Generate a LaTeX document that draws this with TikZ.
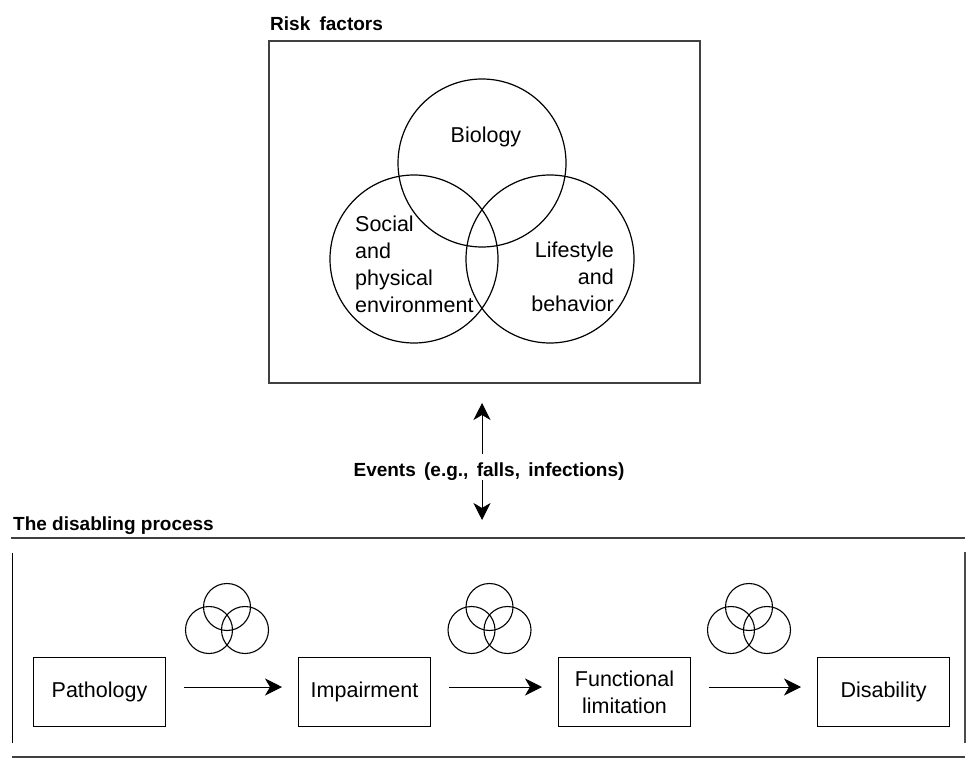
\documentclass[tikz,border=0pt]{standalone}
\usepackage{fontspec}
\setmainfont{Liberation Sans}
\usetikzlibrary{arrows.meta, positioning}

\begin{document}
\begin{tikzpicture}[x=1pt, y=-1pt, font=\fontsize{21.5}{27}\selectfont]
    % Block styles
    \tikzstyle{stage} = [rectangle, draw, line width=1pt, align=center, minimum width=132pt, minimum height=69pt, inner sep=0pt]
    \tikzstyle{factor} = [circle, draw, line width=1.2pt, minimum size=168pt, inner sep=0pt]
    \tikzstyle{mini} = [circle, draw, line width=1.1pt, minimum size=47pt, inner sep=0pt]
    \tikzstyle{title} = [font=\fontsize{19}{23}\selectfont\bfseries, inner sep=0pt]
    \tikzstyle{tip} = [-{Stealth[length=17pt, width=17pt, inset=5pt]}, line width=0.9pt]
    \tikzstyle{frameline} = [line width=1.6pt, black!75]
    \useasboundingbox (0,0) rectangle (966,759);
    % Risk factors
    \node[title, anchor=base west] (risk) at (270,31) {Risk\hspace{4pt} factors};
    \draw[frameline] (269,41) rectangle (700,383);
    \node[factor] (bio) at (482,163) {};
    \node[factor] (soc) at (414,259) {};
    \node[factor] (life) at (550,259) {};
    \node[anchor=base] (biotxt) at (486,143) {Biology};
    \node[anchor=north west, align=left, inner sep=0pt] (soctxt) at (355,216) {Social\\and\\physical\\environment};
    \node[anchor=north east, align=right, inner sep=0pt] (lifetxt) at (614,242) {Lifestyle\\and\\behavior};
    % Events
    \node[title, anchor=base] (events) at (489,476) {Events\hspace{3pt} (e.g.,\hspace{3pt} falls,\hspace{3pt} infections)};
    \coordinate (evup) at (482,403);
    \coordinate (evdown) at (482,520);
    \draw[tip, shorten <=8pt] (events.north -| evup) -- (evup);
    \draw[tip] (events.south -| evdown) -- (evdown);
    % The disabling process
    \node[title, anchor=base west] (disabling) at (13,530) {The disabling process};
    \draw[frameline] (11,538) -- (965,538);
    \draw[frameline] (12,757) -- (965,757);
    \draw[line width=1pt] (12,553) -- (12,743);
    \draw[line width=2.5pt, black!70] (965,552) -- (965,743);
    \node[stage] (patho) at (99.5,692) {Pathology};
    \node[stage, right=132pt of patho] (impair) {Impairment};
    \node[stage, right=127pt of impair] (func) {Functional\\limitation};
    \node[stage, right=126pt of func] (disab) {Disability};
    % Connections
    \foreach \a/\b/\n in {patho/impair/1, impair/func/2, func/disab/3} {
        \draw[tip, shorten <=18pt, shorten >=16pt] ([yshift=5pt]\a.east) -- ([yshift=5pt]\b.west);
        \path (\a.east) -- (\b.west) coordinate[pos=0.5] (mid\n);
        \node[mini] (top\n) at ([shift={(-5,-85)}]mid\n) {};
        \node[mini] (left\n) at ([shift={(-23,-62)}]mid\n) {};
        \node[mini] (right\n) at ([shift={(13,-62)}]mid\n) {};
    }
\end{tikzpicture}
\end{document}
